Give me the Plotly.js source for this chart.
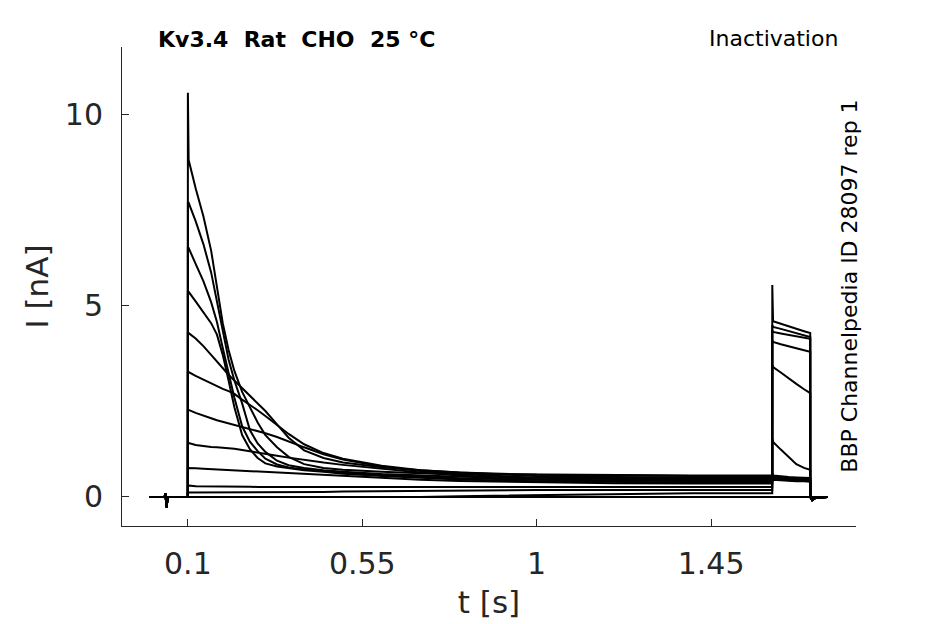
<!DOCTYPE html>
<html>
<head>
<meta charset="utf-8">
<script src="https://cdn.plot.ly/plotly-3.0.1.min.js"></script>
<style>
  body { margin: 0; background: #fff; }
  #plot { width: 945px; height: 624px; }
</style>
</head>
<body>
<div id="plot"></div>
<script>
// time base shared by all sweeps [s]
var t = [0, 0.04, 0.042, 0.045, 0.048, 0.0999,
  0.1, 0.102, 0.12, 0.14, 0.16, 0.175, 0.19, 0.205, 0.22, 0.24, 0.26, 0.28, 0.3, 0.33, 0.36, 0.4,
  0.45, 0.5, 0.6, 0.7, 0.8, 1.0, 1.2, 1.4, 1.6079,
  1.608, 1.61, 1.63, 1.65, 1.67, 1.69, 1.7059,
  1.706, 1.711, 1.72, 1.75];

// current per sweep [nA]
var sweep1 = [0, 0, 0.1, -0.27, 0, 0,
  10.58, 8.82, 8.08, 7.35, 6.45, 5.55, 4.55, 3.85, 3.30, 2.75, 2.35, 1.95, 1.62, 1.30, 1.05, 0.86,
  0.76, 0.71, 0.66, 0.62, 0.60, 0.58, 0.57, 0.56, 0.56,
  0.58, 0.52, 0.50, 0.48, 0.47, 0.46, 0.45,
  0, -0.08, -0.02, 0];
var sweep2 = [0, 0, 0.1, -0.27, 0, 0,
  7.70, 7.70, 7.22, 6.62, 5.88, 5.12, 4.30, 3.60, 3.05, 2.45, 1.75, 1.40, 1.18, 0.95, 0.83, 0.76,
  0.70, 0.66, 0.60, 0.56, 0.53, 0.50, 0.49, 0.48, 0.48,
  0.55, 0.50, 0.48, 0.46, 0.45, 0.44, 0.43,
  0, -0.08, -0.02, 0];
var sweep3 = [0, 0, 0.1, -0.27, 0, 0,
  6.52, 6.52, 6.10, 5.65, 5.10, 4.58, 3.90, 3.22, 2.60, 1.85, 1.45, 1.20, 1.00, 0.85, 0.77, 0.72,
  0.68, 0.64, 0.58, 0.53, 0.49, 0.45, 0.43, 0.42, 0.42,
  0.52, 0.47, 0.45, 0.44, 0.43, 0.42, 0.42,
  0, -0.08, -0.02, 0];
var sweep4 = [0, 0, 0.1, -0.27, 0, 0,
  5.37, 5.37, 5.12, 4.85, 4.55, 4.25, 3.72, 3.05, 2.35, 1.62, 1.25, 1.02, 0.88, 0.80, 0.75, 0.70,
  0.66, 0.61, 0.55, 0.50, 0.46, 0.41, 0.39, 0.38, 0.38,
  0.48, 0.45, 0.43, 0.42, 0.41, 0.41, 0.40,
  0, -0.08, -0.02, 0];
var sweep5 = [0, 0, 0.1, -0.27, 0, 0,
  4.29, 4.29, 4.15, 3.95, 3.72, 3.54, 3.37, 3.20, 3.05, 2.85, 2.65, 2.45, 2.25, 1.90, 1.55, 1.22,
  1.02, 0.90, 0.78, 0.70, 0.64, 0.55, 0.52, 0.51, 0.50,
  0.58, 0.52, 0.50, 0.49, 0.48, 0.48, 0.47,
  0, -0.08, -0.02, 0];
var sweep6 = [0, 0, 0.1, -0.27, 0, 0,
  3.27, 3.27, 3.17, 3.07, 2.97, 2.90, 2.83, 2.77, 2.70, 2.55, 2.42, 2.27, 2.12, 1.88, 1.65, 1.38,
  1.15, 1.00, 0.82, 0.70, 0.64, 0.58, 0.56, 0.55, 0.55,
  0.62, 0.56, 0.53, 0.52, 0.51, 0.50, 0.50,
  0, -0.08, -0.02, 0];
var sweep7 = [0, 0, 0.1, -0.27, 0, 0,
  2.28, 2.28, 2.20, 2.12, 2.06, 2.01, 1.97, 1.93, 1.90, 1.84, 1.78, 1.72, 1.67, 1.57, 1.45, 1.30,
  1.12, 0.98, 0.80, 0.68, 0.60, 0.50, 0.47, 0.46, 0.46,
  1.52, 1.44, 1.24, 1.04, 0.86, 0.76, 0.71,
  0, -0.08, -0.02, 0];
var sweep8 = [0, 0, 0.1, -0.27, 0, 0,
  1.41, 1.41, 1.36, 1.33, 1.31, 1.30, 1.29, 1.28, 1.26, 1.23, 1.20, 1.17, 1.13, 1.08, 1.03, 0.97,
  0.90, 0.84, 0.74, 0.64, 0.56, 0.46, 0.43, 0.42, 0.42,
  3.45, 3.40, 3.26, 3.10, 2.96, 2.82, 2.72,
  0, -0.08, -0.02, 0];
var sweep9 = [0, 0, 0.1, -0.27, 0, 0,
  0.76, 0.76, 0.75, 0.74, 0.73, 0.72, 0.71, 0.70, 0.69, 0.68, 0.67, 0.66, 0.65, 0.63, 0.62, 0.60,
  0.57, 0.54, 0.49, 0.45, 0.42, 0.38, 0.36, 0.35, 0.35,
  4.10, 4.06, 4.00, 3.94, 3.88, 3.84, 3.80,
  0, -0.08, -0.02, 0];
var sweep10 = [0, 0, 0.1, -0.27, 0, 0,
  0.30, 0.30, 0.28, 0.28, 0.27, 0.27, 0.27, 0.27, 0.27, 0.27, 0.27, 0.26, 0.26, 0.26, 0.26, 0.26,
  0.26, 0.26, 0.26, 0.26, 0.26, 0.26, 0.26, 0.26, 0.26,
  4.36, 4.32, 4.28, 4.24, 4.20, 4.17, 4.14,
  0, -0.08, -0.02, 0];
var sweep11 = [0, 0, 0.1, -0.27, 0, 0,
  0.12, 0.12, 0.12, 0.12, 0.12, 0.12, 0.12, 0.12, 0.12, 0.12, 0.12, 0.12, 0.13, 0.13, 0.13, 0.13,
  0.13, 0.14, 0.15, 0.16, 0.17, 0.18, 0.18, 0.18, 0.18,
  4.50, 4.45, 4.40, 4.34, 4.28, 4.23, 4.19,
  0, -0.08, -0.02, 0];
var sweep12 = [0, 0, 0.1, -0.27, 0, 0,
  0, 0, 0, 0, 0, 0, 0, 0, 0, 0, 0, 0, 0, 0, 0, 0,
  0, 0, 0, 0, 0.02, 0.05, 0.08, 0.1, 0.1,
  5.55, 4.60, 4.53, 4.46, 4.40, 4.34, 4.29,
  0, -0.08, -0.02, 0];
var sweep13 = [0, 0, 0.1, -0.27, 0, 0,
  0, 0, 0, 0, 0, 0, 0, 0, 0, 0, 0, 0, 0, 0, 0, 0,
  0, 0, 0, 0, 0, 0, 0, 0, 0,
  0, 0, 0, 0, 0, 0, 0,
  0, 0, 0, 0];

var xTicks = [0.1, 0.55, 1, 1.45];
var xTickText = ["0.1", "0.55", "1", "1.45"];
var yTicks = [0, 5, 10];

var sweeps = [sweep1, sweep2, sweep3, sweep4, sweep5, sweep6, sweep7,
  sweep8, sweep9, sweep10, sweep11, sweep12, sweep13];

var data = sweeps.map(function (s) {
  return {
    x: t,
    y: s,
    type: "scatter",
    mode: "lines",
    line: { color: "#000000", width: 2 },
    showlegend: false,
    hoverinfo: "skip"
  };
});

var axisFont = { family: "DejaVu Sans", size: 30, color: "#262626" };

var layout = {
  width: 945,
  height: 624,
  margin: { l: 122, r: 89, t: 47, b: 98 },
  paper_bgcolor: "#ffffff",
  plot_bgcolor: "#ffffff",
  font: { family: "DejaVu Sans", color: "#000000" },
  xaxis: {
    range: [-0.07, 1.824],
    tickvals: xTicks,
    ticktext: xTickText,
    ticks: "inside",
    ticklen: 7,
    tickwidth: 1,
    tickcolor: "#262626",
    showline: true,
    linecolor: "#262626",
    linewidth: 1,
    showgrid: false,
    zeroline: false,
    tickfont: axisFont,
    ticklabelstandoff: 11,
    title: { text: "t [s]", font: { family: "DejaVu Sans", size: 31, color: "#262626" }, standoff: 11 }
  },
  yaxis: {
    range: [-0.76, 11.78],
    tickvals: yTicks,
    ticks: "inside",
    ticklen: 7,
    tickwidth: 1,
    tickcolor: "#262626",
    showline: true,
    linecolor: "#262626",
    linewidth: 1,
    showgrid: false,
    zeroline: false,
    tickfont: axisFont,
    ticklabelstandoff: 12,
    title: { text: "I [nA]", font: { family: "DejaVu Sans", size: 31, color: "#262626" }, standoff: 6 }
  },
  annotations: [
    {
      text: "<b>Kv3.4\u00a0\u00a0Rat\u00a0\u00a0CHO\u00a0\u00a025 °C</b>",
      xref: "paper", yref: "paper", x: 0.047, y: 1.015,
      xanchor: "left", yanchor: "middle", showarrow: false,
      font: { family: "DejaVu Sans", size: 22, color: "#000000" }
    },
    {
      text: "Inactivation",
      xref: "paper", yref: "paper", x: 0.978, y: 1.017,
      xanchor: "right", yanchor: "middle", showarrow: false,
      font: { family: "DejaVu Sans", size: 22, color: "#000000" }
    },
    {
      text: "BBP Channelpedia ID 28097 rep 1",
      xref: "paper", yref: "paper", x: 0.99, y: 0.501,
      xanchor: "center", yanchor: "middle", textangle: -90, showarrow: false,
      font: { family: "DejaVu Sans", size: 22, color: "#000000" }
    }
  ]
};

Plotly.newPlot("plot", data, layout, { staticPlot: true });
</script>
</body>
</html>
